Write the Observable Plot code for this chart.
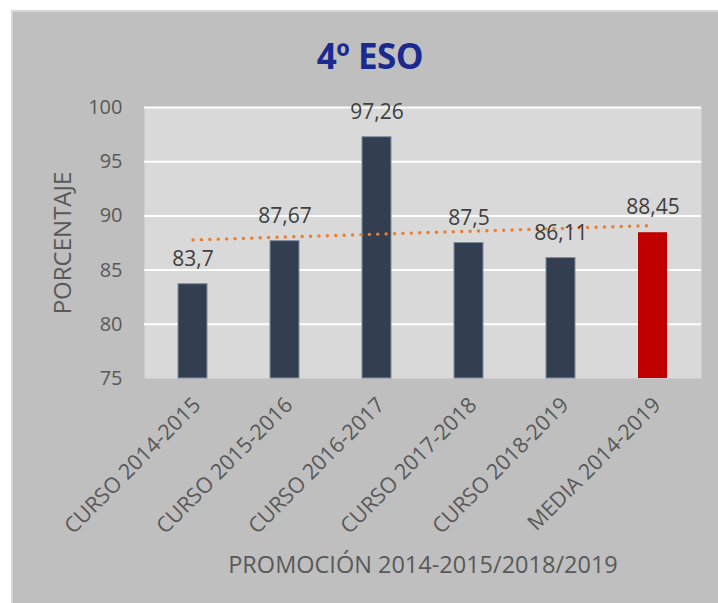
<!DOCTYPE html>
<html>
<head>
<meta charset="utf-8">
<script src="https://cdn.jsdelivr.net/npm/d3@7"></script>
<script src="https://cdn.jsdelivr.net/npm/@observablehq/plot@0.6"></script>
<style>
  html, body { margin: 0; padding: 0; background: #ffffff; width: 718px; height: 603px; overflow: hidden; }
  #chart { position: absolute; left: 11px; top: 10px; width: 707px; height: 593px; background: #bfbfbf;
           border-top: 2px solid #d6d6d6; border-left: 2px solid #d6d6d6; box-sizing: border-box; }
  #title { position: absolute; left: 170px; width: 400px; top: 34px; line-height: 44px; text-align: center;
           font-family: "Open Sans", sans-serif; font-weight: 700; font-size: 35px; color: #1b2a8e; letter-spacing: -0.5px; }
  #plot { position: absolute; left: 11px; top: 90px; }
</style>
</head>
<body>
<div id="chart"></div>
<div id="title">4º ESO</div>
<div id="plot"></div>
<script>
const categories = ["CURSO 2014-2015", "CURSO 2015-2016", "CURSO 2016-2017", "CURSO 2017-2018", "CURSO 2018-2019", "MEDIA 2014-2019"];
const values = [83.7, 87.67, 97.26, 87.5, 86.11, 88.45];
const barColors = ["#333f50", "#333f50", "#333f50", "#333f50", "#333f50", "#c00000"];
const yTicks = [75, 80, 85, 90, 95, 100];
const yMin = 75, yMax = 100;
const yLabel = "PORCENTAJE";
const xLabel = "PROMOCIÓN 2014-2015/2018/2019";

const data = categories.map((c, i) => ({cat: c, v: values[i], color: barColors[i], label: String(values[i]).replace(".", ",")}));

// linear trend line (least squares over all points)
const mx = d3.mean(values, (d, i) => i);
const my = d3.mean(values);
const slope = d3.sum(values, (d, i) => (i - mx) * (d - my)) / d3.sum(values, (d, i) => (i - mx) ** 2);
const intercept = my - slope * mx;
const trend = categories.map((c, i) => ({cat: c, t: intercept + slope * i}));

const chart = Plot.plot({
  width: 707,
  height: 513,
  marginLeft: 133,
  marginRight: 17,
  marginTop: 17,
  marginBottom: 225,
  style: {fontFamily: "'Open Sans', sans-serif", background: "transparent", overflow: "visible"},
  x: {domain: categories, paddingInner: 0.69, paddingOuter: 0.345, axis: null},
  y: {domain: [yMin, yMax], axis: null},
  marks: [
    Plot.frame({fill: "#d9d9d9", stroke: null}),
    Plot.ruleY(yTicks.filter(t => t > yMin), {stroke: "#ffffff", strokeWidth: 2}),
    Plot.axisY({ticks: yTicks, tickSize: 0, tickPadding: 22, fontSize: 20, fill: "#595959", label: null}),
    Plot.barY(data, {x: "cat", y1: yMin, y2: "v", fill: "color", stroke: d => d.color === "#c00000" ? "none" : "#7f8da3", strokeWidth: 1}),
    Plot.line(trend, {x: "cat", y: "t", stroke: "#ed7d31", strokeWidth: 3.4, strokeDasharray: "0.1 8.3", strokeLinecap: "round"}),
    Plot.text(data, {x: "cat", y: "v", text: "label", dy: -25, lineAnchor: "middle", fontSize: 21, fill: "#404040"}),
    Plot.text(data, {x: "cat", frameAnchor: "bottom", text: "cat", rotate: -45, textAnchor: "end", lineAnchor: "middle", dx: 4, dy: 23, fontSize: 21.5, fill: "#595959"}),
    Plot.text([yLabel], {frameAnchor: "left", text: d => d, rotate: -90, dx: -81, textAnchor: "middle", lineAnchor: "middle", fontSize: 24, fill: "#595959"}),
    Plot.text([xLabel], {frameAnchor: "bottom", text: d => d, dy: 187, textAnchor: "middle", lineAnchor: "middle", fontSize: 23.5, fill: "#595959"})
  ]
});
document.getElementById("plot").appendChild(chart);
</script>
</body>
</html>
